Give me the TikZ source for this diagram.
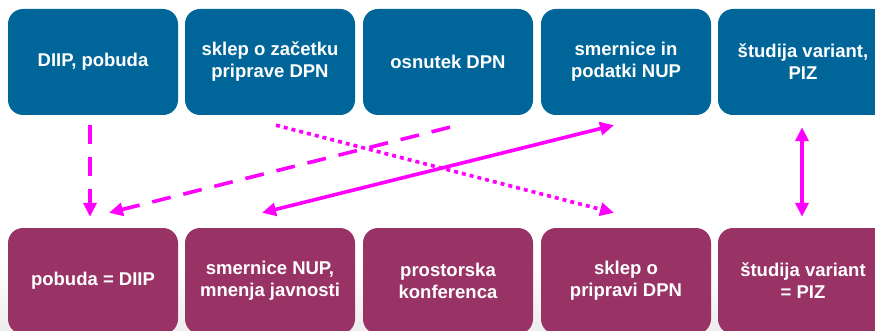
\documentclass[tikz,border=0pt]{standalone}
\usepackage{fontspec}
\setmainfont{Liberation Sans}
\usetikzlibrary{arrows.meta}
\definecolor{topblue}{HTML}{006699}
\definecolor{botplum}{HTML}{993366}
\definecolor{pink}{HTML}{FF00FF}

\begin{document}
\begin{tikzpicture}[x=1pt,y=-1pt,
	box/.style={rounded corners=15pt, minimum width=170pt, minimum height=106pt, inner sep=0pt, align=center, text=white, font=\fontsize{18.5}{22}\selectfont\bfseries},
	topbox/.style={box, fill=topblue},
	botbox/.style={box, fill=botplum},
	link/.style={pink, line width=3.6pt, -{Triangle[length=14pt,width=13pt]}},
	dashlink/.style={link, dash pattern=on 19pt off 13pt},
	dotlink/.style={link, dash pattern=on 4pt off 4pt}
]

	\useasboundingbox (0,0) rectangle (875,331);
	\clip (0,0) rectangle (875,331);
	\shade[top color=white, bottom color=gray!14] (0,262) rectangle (875,331);

	\node[topbox] (t1) at (93,62) {DIIP, pobuda};
	\node[topbox] (t2) at (270,62) {sklep o začetku\\priprave DPN};
	\node[topbox] (t3) at (448,62) {osnutek DPN};
	\node[topbox] (t4) at (626,62) {smernice in\\podatki NUP};
	\node[topbox] (t5) at (803,62) {študija variant,\\PIZ};

	\node[botbox] (b1) at (93,281) {pobuda = DIIP};
	\node[botbox] (b2) at (270,281) {smernice NUP,\\mnenja javnosti};
	\node[botbox] (b3) at (448,281) {prostorska\\konferenca};
	\node[botbox] (b4) at (626,281) {sklep o\\pripravi DPN};
	\node[botbox] (b5) at (803,281) {študija variant\\= PIZ};

	\draw[dashlink] ([xshift=-3pt,yshift=-10pt]t1.south) -- ([xshift=-3pt,yshift=11pt]b1.north);
	\draw[dashlink] ([xshift=2pt,yshift=-12pt]t3.south) -- ([xshift=16pt,yshift=15pt]b1.north);
	\draw[dotlink] ([xshift=6pt,yshift=-10pt]t2.south) -- ([xshift=-12pt,yshift=15pt]b4.north);
	\draw[link, {Triangle[length=14pt,width=13pt]}-{Triangle[length=14pt,width=13pt]}] ([xshift=-8pt,yshift=15pt]b2.north) -- ([xshift=-12pt,yshift=-10pt]t4.south);
	\draw[link, {Triangle[length=14pt,width=13pt]}-{Triangle[length=14pt,width=13pt]}] ([xshift=-1pt,yshift=-12pt]t5.south) -- ([xshift=-1pt,yshift=11pt]b5.north);
%	\draw[dashlink] (t3.south) -- (b3.north);

\end{tikzpicture}
\end{document}
